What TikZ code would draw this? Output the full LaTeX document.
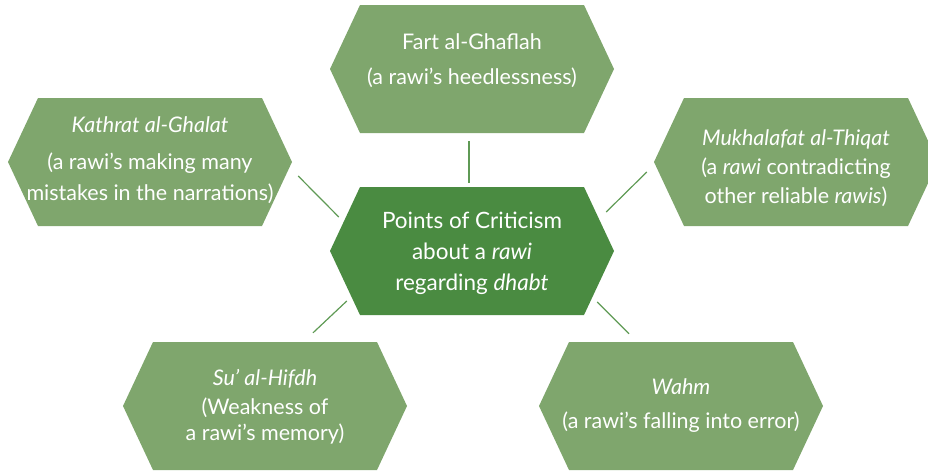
\documentclass[tikz,border=0pt]{standalone}
\usepackage{fontspec}
\setmainfont{Lato}
\usetikzlibrary{backgrounds}
\definecolor{leafgreen}{HTML}{7FA66D}
\definecolor{darkleaf}{HTML}{4A8B41}
\definecolor{linkgreen}{HTML}{5F9A55}
\tikzset{
  hexfill/.style={fill=#1},
}

\begin{document}
\begin{tikzpicture}[x=1pt,y=-1pt]
\useasboundingbox (0,0) rectangle (928,471);

\begin{scope}[every node/.style={minimum width=284pt,minimum height=128pt,inner sep=0pt,align=center,text=white,font=\fontsize{21.5}{29}\selectfont}]
	\node (fart) at (472,61) {Fart al-Ghaflah\\[6pt](a rawi’s heedlessness)};
	\node (kathrat) at (150,160) {\textit{Kathrat al-Ghalat}\\[8pt](a rawi’s making many\\[2pt]mistakes in the narrations)};
	\node (mukh) at (796,168) {\textit{Mukhalafat al-Thiqat}\\(a \textit{rawi} contradicting\\other reliable \textit{rawis})};
	\node (suu) at (265,407) {\textit{Su’ al-Hifdh}\\(Weakness of\\[-3pt]a rawi’s memory)};
	\node (wahm) at (681,406) {\textit{Wahm}\\[5pt](a rawi’s falling into error)};
	\node[font=\fontsize{22.5}{31}\selectfont] (crit) at (472,253) {Points of Criticism\\about a \textit{rawi}\\regarding \textit{dhabt}};
\end{scope}

% hexagons behind the text
\begin{scope}[on background layer]
	\foreach \n/\dy in {fart/8,kathrat/2,mukh/-6,suu/-1,wahm/0}
		\path[hexfill=leafgreen] ([shift={(-142,\dy)}]\n.center) -- ++(30,-64) -- ++(224,0) -- ++(30,64) -- ++(-30,64) -- ++(-224,0) -- cycle;
	\path[hexfill=darkleaf] ([shift={(-142,-2)}]crit.center) -- ++(30,-64) -- ++(224,0) -- ++(30,64) -- ++(-30,64) -- ++(-224,0) -- cycle;
\end{scope}

\begin{scope}[every edge/.style={draw=linkgreen,line width=1.2pt}]
	\path ([shift={(-3,16)}]fart.south) edge ([shift={(-3,-6)}]crit.north);
	\path ([shift={(6,16)}]kathrat.east) edge ([shift={(9,-36)}]crit.west);
	\path ([shift={(-7,4)}]mukh.west) edge ([shift={(-8,-41)}]crit.east);
	\path ([shift={(17,48)}]crit.west) edge ([shift={(48,-10)}]suu.north);
	\path ([shift={(-17,49)}]crit.east) edge ([shift={(-52,-8)}]wahm.north);
\end{scope}
\end{tikzpicture}
\end{document}
